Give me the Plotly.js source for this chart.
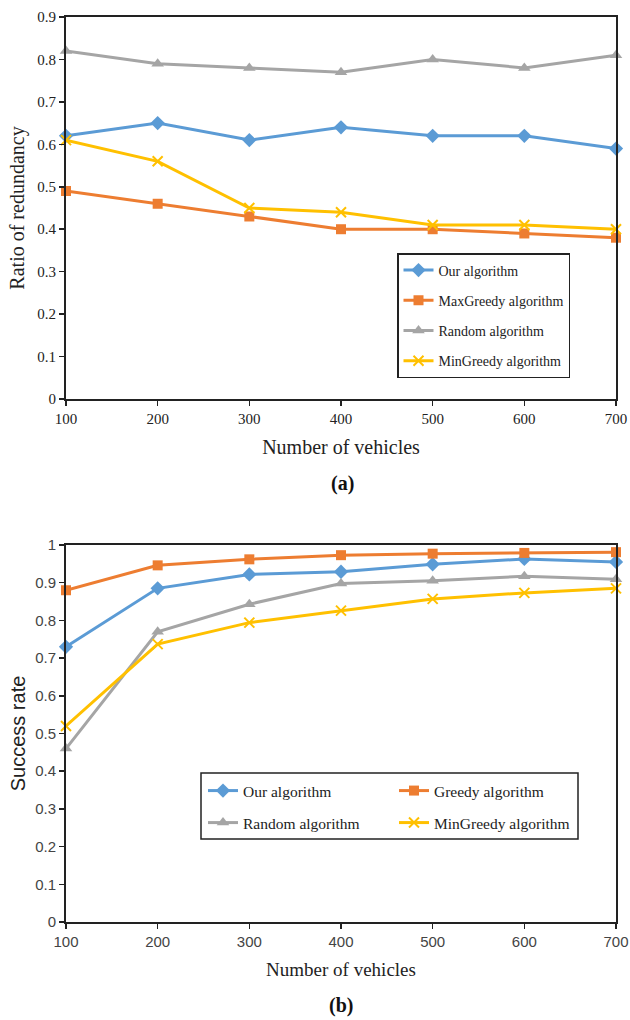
<!DOCTYPE html>
<html>
<head>
<meta charset="utf-8">
<script src="https://cdn.plot.ly/plotly-3.0.1.min.js"></script>
<style>html,body{margin:0;padding:0;background:#fff}#chart{width:630px;height:1020px}</style>
</head>
<body>
<div id="chart"></div>
<script>
// ---- data ----
var vehicles = [100, 200, 300, 400, 500, 600, 700];

// (a) Ratio of redundancy
var redOur       = [0.62, 0.65, 0.61, 0.64, 0.62, 0.62, 0.59];
var redMaxGreedy = [0.49, 0.46, 0.43, 0.40, 0.40, 0.39, 0.38];
var redRandom    = [0.82, 0.79, 0.78, 0.77, 0.80, 0.78, 0.81];
var redMinGreedy = [0.61, 0.56, 0.45, 0.44, 0.41, 0.41, 0.40];

// (b) Success rate
var sucOur       = [0.73, 0.885, 0.922, 0.929, 0.949, 0.963, 0.955];
var sucGreedy    = [0.88, 0.946, 0.962, 0.973, 0.977, 0.979, 0.981];
var sucRandom    = [0.46, 0.77, 0.843, 0.898, 0.905, 0.917, 0.909];
var sucMinGreedy = [0.52, 0.737, 0.794, 0.826, 0.857, 0.873, 0.885];

var namesA = ['Our algorithm', 'MaxGreedy algorithm', 'Random algorithm', 'MinGreedy algorithm'];
var namesB = ['Our algorithm', 'Greedy algorithm', 'Random algorithm', 'MinGreedy algorithm'];

// ---- styles ----
var colors  = ['#5B9BD5', '#ED7D31', '#A5A5A5', '#FFC000'];
var symbols = ['diamond', 'square', 'triangle-up', 'x-thin'];
var sizes   = [11, 10, 11, 10];
var serif = 'Liberation Serif, Times New Roman, serif';
var sansN = 'Liberation Sans Narrow, Arial Narrow, Liberation Sans, sans-serif';
var sans  = 'Liberation Sans, Arial, sans-serif';

function mk(y, i, names, xa, ya, legend, grp) {
  var m = {symbol: symbols[i], size: sizes[i], color: colors[i]};
  if (symbols[i] === 'x-thin') m.line = {color: colors[i], width: 2};
  return {
    x: vehicles, y: y, name: names[i], type: 'scatter', mode: 'lines+markers',
    xaxis: xa, yaxis: ya, legend: legend, legendgroup: grp,
    line: {color: colors[i], width: 3}, marker: m, cliponaxis: false
  };
}

var dataA = [redOur, redMaxGreedy, redRandom, redMinGreedy];
var dataB = [sucOur, sucGreedy, sucRandom, sucMinGreedy];
var traces = [];
dataA.forEach(function (y, i) { traces.push(mk(y, i, namesA, 'x', 'y', 'legend', 'a' + i)); });
var legB = ['legend2', 'legend2', 'legend3', 'legend3'];
dataB.forEach(function (y, i) { traces.push(mk(y, i, namesB, 'x2', 'y2', legB[i], 'b' + i)); });

var W = 630, H = 1020;
function px(x) { return x / W; }
function py(y) { return (H - y) / H; }

var axLine = {showline: true, linecolor: '#222', linewidth: 2, mirror: true,
  ticks: 'outside', ticklen: 5, tickwidth: 1.5, tickcolor: '#222', showgrid: false, zeroline: false};

var layout = {
  width: W, height: H, margin: {l: 0, r: 0, t: 0, b: 0},
  paper_bgcolor: '#fff', plot_bgcolor: '#fff', showlegend: true,
  xaxis: Object.assign({}, axLine, {
    domain: [px(66), px(616)], anchor: 'y', range: [100, 700], tickvals: vehicles,
    tickfont: {family: serif, size: 15, color: '#222'},
    title: {text: 'Number of vehicles', font: {family: serif, size: 20, color: '#222'}, standoff: 14}
  }),
  yaxis: Object.assign({}, axLine, {
    domain: [py(399), py(17)], anchor: 'x', range: [0, 0.9], dtick: 0.1, tick0: 0,
    tickfont: {family: serif, size: 15, color: '#222'},
    title: {text: 'Ratio of redundancy', font: {family: serif, size: 20, color: '#222'}, standoff: 7}
  }),
  xaxis2: Object.assign({}, axLine, {
    domain: [px(66), px(616)], anchor: 'y2', range: [100, 700], tickvals: vehicles,
    tickfont: {family: sansN, size: 15, color: '#444'},
    title: {text: 'Number of vehicles', font: {family: serif, size: 19, color: '#222'}, standoff: 14}
  }),
  yaxis2: Object.assign({}, axLine, {
    domain: [py(922), py(545)], anchor: 'x2', range: [0, 1], dtick: 0.1, tick0: 0,
    tickfont: {family: sansN, size: 15, color: '#444'},
    title: {text: 'Success rate', font: {family: sans, size: 20, color: '#222'}, standoff: 4}
  }),
  legend: {
    x: px(397), y: py(253), xanchor: 'left', yanchor: 'top', orientation: 'v',
    bgcolor: '#fff', bordercolor: '#222', borderwidth: 1.5,
    font: {family: serif, size: 14, color: '#222'}, traceorder: 'grouped', tracegroupgap: 9
  },
  legend2: {
    x: px(203), y: py(791), xanchor: 'left', yanchor: 'middle', orientation: 'h',
    bgcolor: 'rgba(0,0,0,0)', borderwidth: 0, entrywidth: 146,
    font: {family: serif, size: 15.5, color: '#222'}
  },
  legend3: {
    x: px(203), y: py(823), xanchor: 'left', yanchor: 'middle', orientation: 'h',
    bgcolor: 'rgba(0,0,0,0)', borderwidth: 0, entrywidth: 146,
    font: {family: serif, size: 15.5, color: '#222'}
  },
  shapes: [{type: 'rect', xref: 'paper', yref: 'paper', x0: px(201), x1: px(578), y0: py(839), y1: py(773),
    line: {color: '#222', width: 1.5}, fillcolor: 'rgba(0,0,0,0)', layer: 'below'}],
  annotations: [
    {text: '<b>(a)</b>', xref: 'paper', yref: 'paper', x: px(343), y: py(483), showarrow: false,
     xanchor: 'center', yanchor: 'middle', font: {family: serif, size: 20, color: '#111'}},
    {text: '<b>(b)</b>', xref: 'paper', yref: 'paper', x: px(341), y: py(1005), showarrow: false,
     xanchor: 'center', yanchor: 'middle', font: {family: serif, size: 20, color: '#111'}}
  ]
};

Plotly.newPlot('chart', traces, layout, {displayModeBar: false, staticPlot: true});
</script>
</body>
</html>
